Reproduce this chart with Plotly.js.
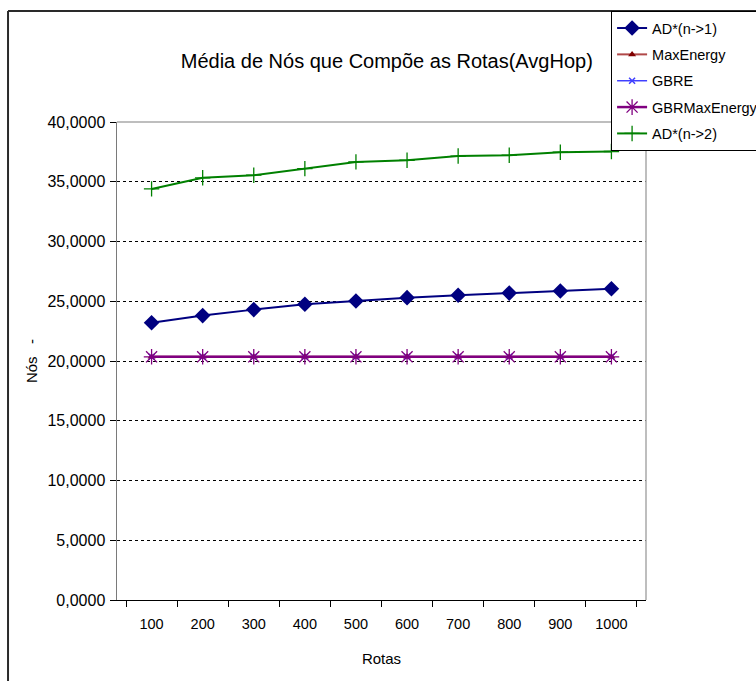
<!DOCTYPE html>
<html>
<head>
<meta charset="utf-8">
<script src="https://cdn.plot.ly/plotly-3.0.1.min.js"></script>
<style>
  html, body { margin: 0; padding: 0; background: #fff; }
  #chart { width: 756px; height: 681px; }
</style>
</head>
<body>
<div id="chart"></div>
<script>
// Route counts (categories on the x axis)
const rotas = ['100', '200', '300', '400', '500', '600', '700', '800', '900', '1000'];

// Average number of hops per route, one array per protocol
const adN1 = [23.2, 23.8, 24.3, 24.75, 25.02, 25.3, 25.5, 25.68, 25.86, 26.05];
const maxEnergy = [20.35, 20.35, 20.35, 20.35, 20.35, 20.35, 20.35, 20.35, 20.35, 20.35];
const gbre = [20.35, 20.35, 20.35, 20.35, 20.35, 20.35, 20.35, 20.35, 20.35, 20.35];
const gbrMaxEnergy = [20.35, 20.35, 20.35, 20.35, 20.35, 20.35, 20.35, 20.35, 20.35, 20.35];
const adN2 = [34.4, 35.33, 35.55, 36.1, 36.66, 36.8, 37.15, 37.22, 37.47, 37.53];

const seriesNames = ['AD*(n->1)', 'MaxEnergy', 'GBRE', 'GBRMaxEnergy', 'AD*(n->2)'];

const FONT = 'Liberation Sans, Arial, sans-serif';

const traces = [
  {
    x: rotas, y: adN1, name: seriesNames[0], mode: 'lines+markers', legendgroup: 'a',
    line: { color: '#000080', width: 2 },
    marker: { symbol: 'diamond', size: 12, color: '#000080' }
  },
  {
    x: rotas, y: maxEnergy, name: seriesNames[1], mode: 'lines+markers', legendgroup: 'b',
    line: { color: '#b04848', width: 2 },
    marker: { symbol: 'triangle-up', size: 7, color: '#800000' }
  },
  {
    x: rotas, y: gbre, name: seriesNames[2], mode: 'lines+markers', legendgroup: 'c',
    line: { color: '#4040ff', width: 1.5 },
    marker: { symbol: 'x-thin-open', size: 6, line: { color: '#3030ff', width: 1.5 } }
  },
  {
    x: rotas, y: gbrMaxEnergy, name: seriesNames[3], mode: 'lines+markers', legendgroup: 'd',
    line: { color: '#800080', width: 2.5 },
    marker: { symbol: 'asterisk-open', size: 13, line: { color: '#a040a0', width: 1.3 } }
  },
  {
    x: rotas, y: adN2, name: seriesNames[4], mode: 'lines+markers', legendgroup: 'e',
    line: { color: '#008000', width: 2 },
    marker: { symbol: 'cross-thin-open', size: 11, line: { color: '#189018', width: 1.3 } }
  }
];

const layout = {
  width: 756,
  height: 681,
  margin: { l: 117, r: 110, t: 122, b: 81, autoexpand: false },
  paper_bgcolor: '#ffffff',
  plot_bgcolor: '#ffffff',
  separators: ',.',
  font: { family: FONT, size: 14, color: '#000' },
  showlegend: true,
  title: {
    text: 'Média de Nós que Compõe as Rotas(AvgHop)',
    font: { family: FONT, size: 20, color: '#000' },
    xref: 'paper', yref: 'paper',
    x: 0.51, xanchor: 'center',
    y: 1.157, yanchor: 'middle'
  },
  xaxis: {
    type: 'category',
    categoryorder: 'array',
    categoryarray: rotas,
    tickson: 'boundaries',
    ticks: 'outside',
    ticklen: 6,
    tickcolor: '#000',
    ticklabelstandoff: 11,
    showline: true,
    linecolor: '#000',
    linewidth: 1,
    showgrid: false,
    zeroline: false,
    tickfont: { family: FONT, size: 14.5, color: '#000' },
    title: { text: 'Rotas', font: { family: FONT, size: 15, color: '#000' }, standoff: 22 }
  },
  yaxis: {
    range: [0, 40],
    dtick: 5,
    tick0: 0,
    tickformat: '.4f',
    ticks: 'outside',
    ticklen: 6,
    tickcolor: '#000',
    ticklabelstandoff: 1,
    showline: true,
    linecolor: '#7a7a7a',
    linewidth: 1.5,
    showgrid: true,
    gridcolor: '#000',
    gridwidth: 1,
    griddash: 'dot',
    zeroline: false,
    tickfont: { family: FONT, size: 16, color: '#000' },
    title: { text: 'Nós\u00a0\u00a0\u00a0-', font: { family: FONT, size: 15, color: '#000' }, standoff: 6 }
  },
  legend: {
    x: 0.934, xanchor: 'left',
    y: 1.232, yanchor: 'top',
    bgcolor: '#ffffff',
    bordercolor: '#000',
    borderwidth: 1,
    tracegroupgap: 4.5,
    font: { family: FONT, size: 14.5, color: '#000' }
  },
  shapes: [
    // plot area frame: top and right edges
    { type: 'line', xref: 'paper', yref: 'paper', x0: 0, x1: 1, y0: 1, y1: 1,
      line: { color: '#a8a8a8', width: 1.5 } },
    { type: 'line', xref: 'paper', yref: 'paper', x0: 1, x1: 1, y0: 0, y1: 1,
      line: { color: '#a8a8a8', width: 1.5 } },
    // outer chart frame: left and top edges
    { type: 'line', xref: 'paper', yref: 'paper', x0: -0.206, x1: -0.206, y0: -0.3, y1: 1.232,
      line: { color: '#2a2a2a', width: 2 } },
    { type: 'line', xref: 'paper', yref: 'paper', x0: -0.206, x1: 1.3, y0: 1.232, y1: 1.232,
      line: { color: '#2a2a2a', width: 2 } }
  ]
};

Plotly.newPlot('chart', traces, layout, { displayModeBar: false, staticPlot: true });
</script>
</body>
</html>
